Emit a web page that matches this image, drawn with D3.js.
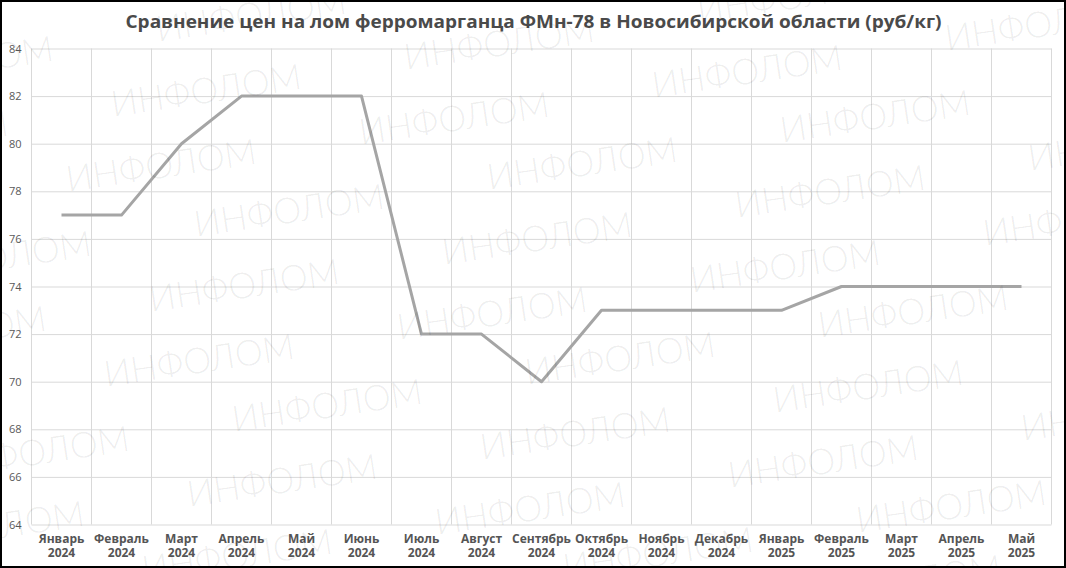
<!DOCTYPE html>
<html>
<head>
<meta charset="utf-8">
<script src="https://cdn.jsdelivr.net/npm/d3@7"></script>
<style>
  html, body { margin: 0; padding: 0; background: #fff; }
  svg { display: block; }
</style>
</head>
<body>
<svg id="chart" width="1066" height="568"></svg>
<script>
// ---- data ----
const title = "Сравнение цен на лом ферромарганца ФМн-78 в Новосибирской области (руб/кг)";
const months = ["Январь","Февраль","Март","Апрель","Май","Июнь","Июль","Август","Сентябрь","Октябрь","Ноябрь","Декабрь","Январь","Февраль","Март","Апрель","Май"];
const years  = ["2024","2024","2024","2024","2024","2024","2024","2024","2024","2024","2024","2024","2025","2025","2025","2025","2025"];
const prices = [77,77,80,82,82,82,72,72,70,73,73,73,73,74,74,74,74];
const yTicks = [64,66,68,70,72,74,76,78,80,82,84];
const watermarkText = "ИНФОЛОМ";

// ---- layout ----
const W = 1066, H = 568;
const plotL = 31.5, plotR = 1051.5, plotT = 48.5, plotB = 524.5;
const svg = d3.select("#chart");

svg.append("rect").attr("width", W).attr("height", H).attr("fill", "#fff");

const categories = months.map((m, i) => m + " " + years[i] + "#" + i);
const x = d3.scaleBand().domain(categories).range([plotL, plotR]).paddingInner(0).paddingOuter(0);
const y = d3.scaleLinear().domain([d3.min(yTicks), d3.max(yTicks)]).range([plotB, plotT]);

// horizontal grid + y labels
const yAxis = d3.axisLeft(y).tickValues(yTicks).tickSize(-(plotR - plotL)).tickPadding(10).tickFormat(d3.format("d"));
const gy = svg.append("g").attr("transform", `translate(${plotL},0)`).call(yAxis);
gy.select(".domain").remove();
gy.selectAll(".tick line").attr("stroke", "#d9d9d9").attr("stroke-width", 1);
gy.selectAll(".tick text")
  .attr("fill", "#595959")
  .attr("font-family", "'Open Sans', 'DejaVu Sans', sans-serif")
  .attr("font-size", "11px");

// vertical grid at band boundaries
const bounds = categories.map(c => x(c)).concat([plotR]);
svg.append("g").selectAll("line").data(bounds).join("line")
  .attr("x1", d => d).attr("x2", d => d)
  .attr("y1", plotT).attr("y2", plotB)
  .attr("stroke", "#d9d9d9").attr("stroke-width", 1);

// x labels
const xAxis = d3.axisBottom(x).tickSize(0).tickPadding(0).tickFormat(() => "");
const gx = svg.append("g").attr("transform", `translate(0,${plotB})`).call(xAxis);
gx.select(".domain").remove();
gx.selectAll(".tick text").each(function(d, i) {
  const t = d3.select(this)
    .attr("fill", "#555555")
    .attr("font-family", "'Open Sans', 'DejaVu Sans', sans-serif")
    .attr("font-weight", "bold")
    .attr("font-size", "12px")
    .attr("text-anchor", "middle")
    .attr("dy", null)
    .attr("y", 0);
  t.text(null);
  t.append("tspan").attr("x", 0).attr("y", 18.2).text(months[i]);
  t.append("tspan").attr("x", 0).attr("y", 32.8).text(years[i]);
});

// line
const line = d3.line()
  .x((d, i) => x(categories[i]) + x.bandwidth() / 2)
  .y(d => y(d));
svg.append("path").datum(prices)
  .attr("d", line)
  .attr("fill", "none")
  .attr("stroke", "#a5a5a5")
  .attr("stroke-width", 3)
  .attr("stroke-linejoin", "round")
  .attr("stroke-linecap", "butt");

// title
svg.append("text")
  .attr("x", W / 2 + 0.5).attr("y", 27.5)
  .attr("text-anchor", "middle")
  .attr("fill", "#4a4a4a")
  .attr("font-family", "'Open Sans', 'DejaVu Sans', sans-serif")
  .attr("font-weight", "bold")
  .attr("font-size", "17.5px")
  .attr("textLength", 816)
  .attr("lengthAdjust", "spacingAndGlyphs")
  .text(title);

// watermark (tiled decoration, cut by the picture edges as in the reference)
const wm = [];
const O = [289, 209], va = [-45, 75], vb = [38, 195], vc = [293, -47];
for (let k = -1; k <= 3; k++)
  for (let j = -1; j <= 2; j++)
    for (let i = 0; i < 3; i++)
      wm.push([O[0] + i * va[0] + j * vb[0] + k * vc[0], O[1] + i * va[1] + j * vb[1] + k * vc[1]]);
svg.append("g").attr("pointer-events", "none").selectAll("text").data(wm).join("text")
  .attr("transform", d => `translate(${d[0]},${d[1]}) rotate(-8.5)`)
  .attr("text-anchor", "middle")
  .attr("dominant-baseline", "central")
  .attr("font-family", "Lato, 'Open Sans', sans-serif")
  .attr("font-weight", 300)
  .attr("font-size", "36px")
  .attr("textLength", 192)
  .attr("lengthAdjust", "spacingAndGlyphs")
  .attr("fill", "#000")
  .attr("fill-opacity", 0.075)
  .text(watermarkText);

// outer frame
svg.append("rect").attr("x", 1).attr("y", 1).attr("width", W - 2).attr("height", H - 2)
  .attr("fill", "none").attr("stroke", "#000").attr("stroke-width", 2);
</script>
</body>
</html>
